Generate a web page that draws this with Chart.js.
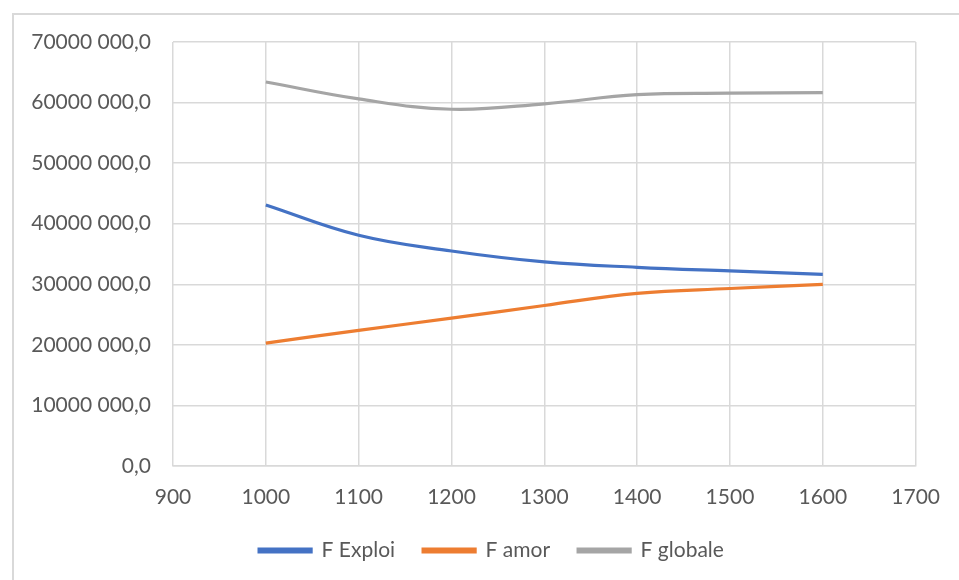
<!DOCTYPE html>
<html>
<head>
    <script src="https://cdn.jsdelivr.net/npm/chart.js@4.4.0/dist/chart.umd.min.js"></script>
    <title>F Exploi / F amor / F globale</title>
    <style>
        body { margin: 0; background: #fff; }
        .frame { position: absolute; left: 12px; top: 13px; width: 1000px; height: 600px;
                 border-left: 2px solid #d9d9d9; border-top: 2px solid #d9d9d9; }
        #wrap { position: absolute; left: 0; top: 0; width: 959px; height: 580px; }
    </style>
</head>
<body>
    <div class="frame"></div>
    <div id="wrap"><canvas id="chart"></canvas></div>

    <script>
    // values
    const xVals = [1000, 1100, 1200, 1300, 1400, 1500, 1600];
    const fExploi = [43100000, 38100000, 35500000, 33700000, 32800000, 32200000, 31650000];
    const fAmor = [20300000, 22400000, 24400000, 26500000, 28500000, 29300000, 29980000];
    const fGlobale = [63400000, 60600000, 58900000, 59800000, 61300000, 61550000, 61650000];

    function pts(arr) {
        return xVals.map((x, i) => ({ x: x, y: arr[i] }));
    }

    // "70000 000,0" style labels
    function fmt(v) {
        let s = Math.round(v).toString();
        if (s.length > 3) s = s.slice(0, -3) + ' ' + s.slice(-3);
        return s + ',0';
    }

    const grey = '#595959';
    const gridCol = '#d9d9d9';
    Chart.defaults.font.family = 'Lato, "Open Sans", sans-serif';
    Chart.defaults.font.size = 21;
    Chart.defaults.color = grey;

    function ds(label, arr, col) {
        return {
            label: label,
            data: pts(arr),
            borderColor: col,
            backgroundColor: col,
            borderWidth: 3.2,
            pointRadius: 0,
            tension: 0.4,
            fill: false
        };
    }

    // the excel chart frame is wider than the window, legend sits in its middle
    const shiftLegend = {
        id: 'shiftLegend',
        afterLayout(chart) {
            const lg = chart.legend;
            const d = (chart.width / 2 + 12) - (lg.left + lg.right) / 2;
            lg.left += d;
            lg.right += d;
        }
    };

    new Chart(document.getElementById('chart'), {
        type: 'line',
        data: {
            datasets: [
                ds('F Exploi', fExploi, '#4472C4'),
                ds('F amor', fAmor, '#ED7D31'),
                ds('F globale', fGlobale, '#A5A5A5')
            ]
        },
        options: {
            responsive: true,
            maintainAspectRatio: false,
            animation: false,
            layout: { padding: { top: 42, right: 42, bottom: 9, left: 0 } },
            plugins: {
                tooltip: { enabled: false },
                legend: {
                    position: 'bottom',
                    labels: { boxWidth: 52, boxHeight: 3, padding: 28, color: grey }
                }
            },
            scales: {
                x: {
                    type: 'linear',
                    min: 900, max: 1700,
                    ticks: { stepSize: 100, padding: 19, color: grey, callback: v => v },
                    grid: { color: gridCol, lineWidth: 1.5, drawTicks: false },
                    border: { color: gridCol, width: 1.5 },
                    afterFit: s => { s.height = 46; }
                },
                y: {
                    min: 0, max: 70000000,
                    ticks: { stepSize: 10000000, padding: 22, color: grey, callback: fmt },
                    grid: { color: gridCol, lineWidth: 1.5, drawTicks: false },
                    border: { display: false },
                    afterFit: s => { s.width = 173; }
                }
            }
        },
        plugins: [shiftLegend]
    });
    </script>
</body>
</html>
